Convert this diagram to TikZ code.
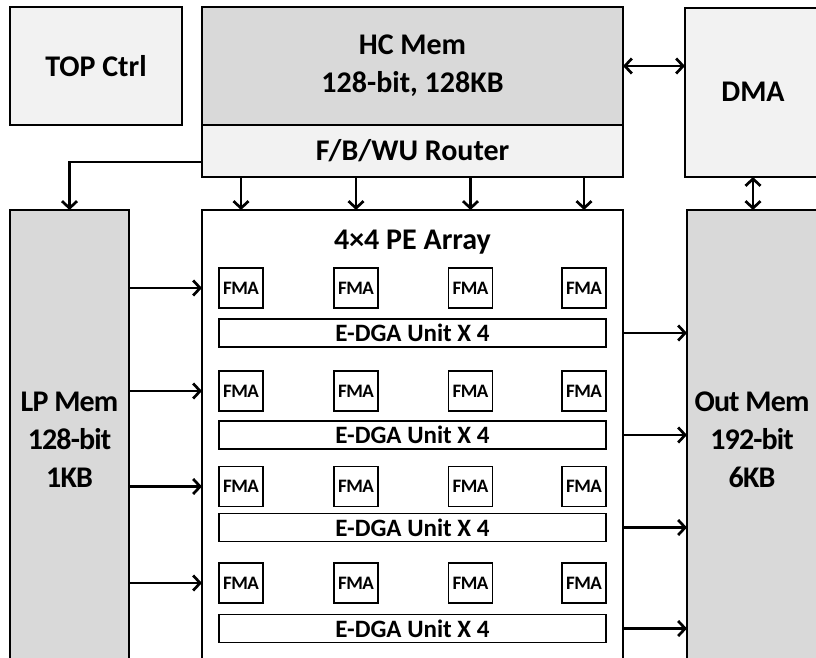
\documentclass[tikz,border=0pt]{standalone}
\usepackage{fontspec}
\setmainfont{Carlito}
\usetikzlibrary{arrows.meta}
\definecolor{dk}{HTML}{D9D9D9}
\definecolor{lt}{HTML}{F2F2F2}
\begin{document}
\begin{tikzpicture}[x=1pt,y=-1pt,
 blk/.style={draw, line width=2.7pt, anchor=north west, inner sep=0pt, outer sep=0pt},
 big/.style={font=\bfseries\fontsize{30}{38}\selectfont, align=center},
 tight/.style={font=\bfseries\fontsize{30}{38}\selectfont\addfontfeature{LetterSpace=-3}, align=center},
 arr/.style={line width=2.7pt, -{Straight Barb[length=7pt,width=15pt]}},
 darr/.style={line width=2.7pt, {Straight Barb[length=7pt,width=15pt]}-{Straight Barb[length=7pt,width=15pt]}},
 fma/.style={draw, line width=1.5pt, minimum width=44pt, minimum height=40pt, inner sep=0pt, font=\bfseries\fontsize{19}{19}\selectfont\addfontfeature{LetterSpace=-3}},
 unit/.style={draw, line width=1.5pt, minimum width=387pt, minimum height=28pt, inner sep=0pt, font=\bfseries\fontsize{25}{25}\selectfont}]
\useasboundingbox (0,0) rectangle (816,658);
\clip (0,0) rectangle (816,658);
\node[blk, fill=lt, minimum width=172pt, minimum height=118pt] (top) at (10,7) {};
\node[big] (topt) at (96,66) {TOP Ctrl};
\node[blk, fill=dk, minimum width=421pt, minimum height=118pt] (hc) at (202,7) {};
\node[big] (hct) at (412.5,66) {HC Mem\\128-bit, 128KB};
\node[blk, fill=lt, minimum width=421pt, minimum height=52pt] (rt) at (202,125) {};
\node[big] (rtt) at (412.5,151) {F/B/WU Router};
\node[blk, fill=lt, minimum width=136pt, minimum height=169pt] (dma) at (685,8) {};
\node[big] (dmat) at (753,92) {DMA};
\node[blk, fill=dk, minimum width=119pt, minimum height=470pt] (lp) at (10,210) {};
\node[tight] (lpt) at (69.5,440) {LP Mem\\128-bit\\1KB};
\node[blk, fill=white, minimum width=421pt, minimum height=470pt] (pe) at (202,210) {};
\node[big] (pet) at (412.5,242) {4×4 PE Array};
\node[blk, fill=dk, minimum width=132pt, minimum height=470pt] (out) at (687,210) {};
\node[tight] (outt) at (752,440) {Out Mem\\192-bit\\6KB};
\foreach \r/\fy/\ey in {1/288/333, 2/391/435, 3/486.5/527.5, 4/583/628.5} {
  \foreach \c/\fx in {1/241,2/356,3/470.5,4/584} { \node[fma] (f\r\c) at (\fx,\fy) {FMA}; }
  \node[unit] (e\r) at (412.5,\ey) {E-DGA Unit X 4};
  \draw[arr] (lp.east |- f\r1) -- (pe.west |- f\r1);
  \draw[arr] (pe.east |- e\r) -- (out.west |- e\r);
}
\foreach \c in {1,...,4} \draw[arr] (rt.south -| f1\c) -- (pe.north -| f1\c);
\draw[arr] ([yshift=-11pt]rt.west) -| (lp.north);
\draw[darr] (hc.east) -- (dma.west |- hc.east);
\draw[darr] (dma.south) -- (out.north);
\end{tikzpicture}
\end{document}
